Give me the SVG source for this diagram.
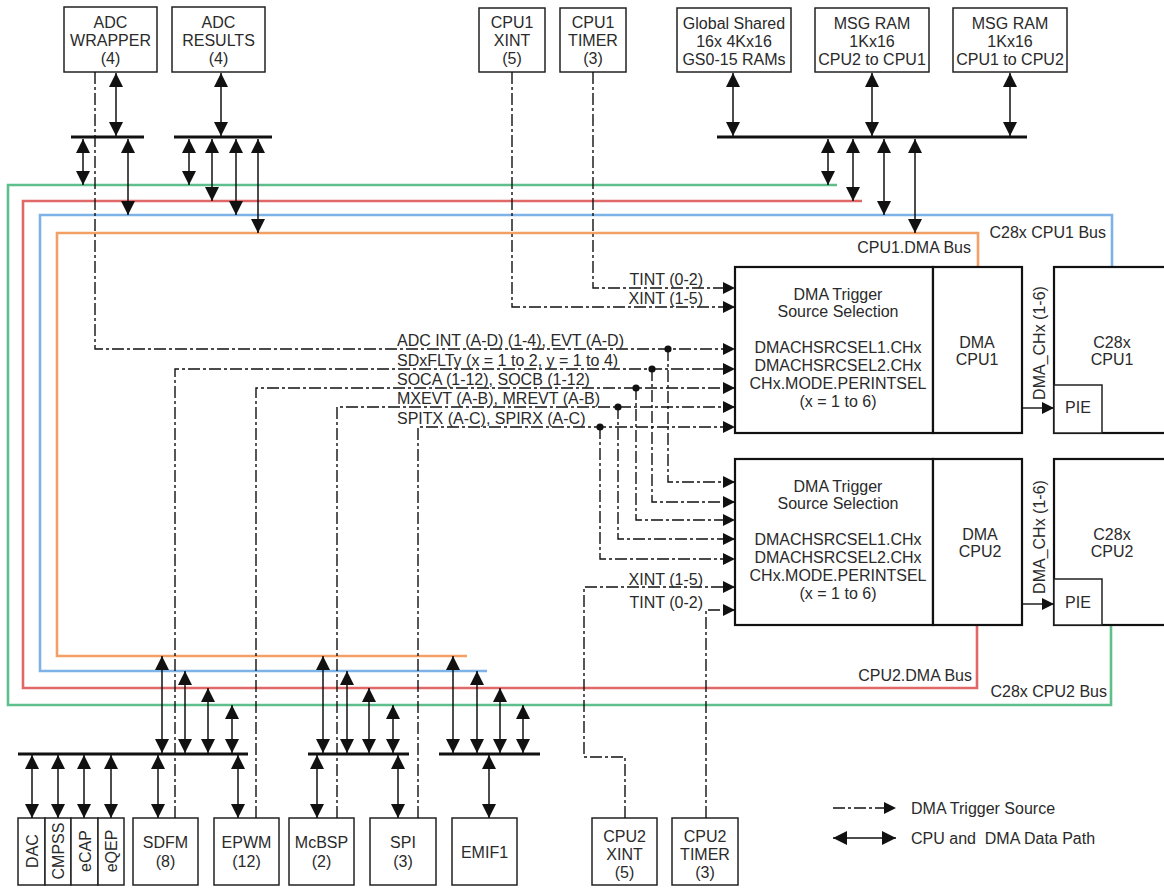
<svg xmlns="http://www.w3.org/2000/svg" width="1164" height="888" viewBox="0 0 1164 888">
<style>
.t{font-family:"Liberation Sans",Arial,sans-serif;font-size:16px;fill:#2a2a2a}
.c{text-anchor:middle}
.e{text-anchor:end}
.box{fill:#fff;stroke:#222;stroke-width:1.5}
.dbox{fill:#fff;stroke:#111;stroke-width:2.2}
.bus{stroke:#111;stroke-width:3}
.da{stroke:#111;stroke-width:1.5;fill:none;marker-start:url(#ah);marker-end:url(#ah)}
.tra{stroke:#111;stroke-width:1.4;fill:none;stroke-dasharray:12 3 3 3;marker-end:url(#th)}
.sa{stroke:#111;stroke-width:1.4;fill:none;marker-end:url(#th)}
.g{stroke:#5fbf8c;stroke-width:2.6;fill:none}
.r{stroke:#e06868;stroke-width:2.6;fill:none}
.b{stroke:#7db3e6;stroke-width:2.6;fill:none}
.o{stroke:#f3a066;stroke-width:2.6;fill:none}
</style>
<defs>
<marker id="ah" markerUnits="userSpaceOnUse" markerWidth="15" markerHeight="15" refX="14" refY="7" orient="auto-start-reverse"><path d="M0,0 L14,7 L0,14 z" fill="#111"/></marker>
<marker id="th" markerUnits="userSpaceOnUse" markerWidth="13" markerHeight="13" refX="12" refY="6" orient="auto"><path d="M0,0 L12,6 L0,12 z" fill="#111"/></marker>
</defs>
<rect width="1164" height="888" fill="#fff"/>

<g id="buses">
<path class="g" d="M837,185 H8 V705 H1111 V625"/>
<path class="r" d="M862,201 H23 V688 H977 V625"/>
<path class="b" d="M1112,266 V215 H40 V671 H487"/>
<path class="o" d="M978,266 V233 H57 V656 H467"/>
<text class="t e" x="1106" y="238">C28x CPU1 Bus</text>
<text class="t e" x="971" y="253">CPU1.DMA Bus</text>
<text class="t e" x="972" y="681">CPU2.DMA Bus</text>
<text class="t e" x="1107" y="697">C28x CPU2 Bus</text>
</g>

<g id="adc-wrapper"><rect class="box" x="64" y="7" width="93" height="65"/><text class="t c" x="110.5" y="28">ADC</text><text class="t c" x="110.5" y="46">WRAPPER</text><text class="t c" x="110.5" y="64">(4)</text></g>
<g id="adc-results"><rect class="box" x="172" y="7" width="93" height="65"/><text class="t c" x="218.5" y="28">ADC</text><text class="t c" x="218.5" y="46">RESULTS</text><text class="t c" x="218.5" y="64">(4)</text></g>
<g id="cpu1-xint"><rect class="box" x="479" y="8" width="66" height="64"/><text class="t c" x="512" y="28">CPU1</text><text class="t c" x="512" y="46">XINT</text><text class="t c" x="512" y="64">(5)</text></g>
<g id="cpu1-timer"><rect class="box" x="560" y="8" width="66" height="64"/><text class="t c" x="593" y="28">CPU1</text><text class="t c" x="593" y="46">TIMER</text><text class="t c" x="593" y="64">(3)</text></g>
<g id="gsram"><rect class="box" x="677" y="8" width="114" height="64"/><text class="t c" x="734" y="29">Global Shared</text><text class="t c" x="734" y="47">16x 4Kx16</text><text class="t c" x="734" y="65">GS0-15 RAMs</text></g>
<g id="msgram21"><rect class="box" x="815" y="8" width="114" height="64"/><text class="t c" x="872" y="29">MSG RAM</text><text class="t c" x="872" y="47">1Kx16</text><text class="t c" x="872" y="65">CPU2 to CPU1</text></g>
<g id="msgram12"><rect class="box" x="953" y="8" width="114" height="64"/><text class="t c" x="1010" y="29">MSG RAM</text><text class="t c" x="1010" y="47">1Kx16</text><text class="t c" x="1010" y="65">CPU1 to CPU2</text></g>

<g id="dma-trig1"><rect class="dbox" x="735" y="267" width="198" height="166"/><text class="t c" x="838" y="300">DMA Trigger</text><text class="t c" x="838" y="317">Source Selection</text><text class="t c" x="838" y="353">DMACHSRCSEL1.CHx</text><text class="t c" x="838" y="371">DMACHSRCSEL2.CHx</text><text class="t c" x="838" y="389">CHx.MODE.PERINTSEL</text><text class="t c" x="838" y="407">(x = 1 to 6)</text></g>
<g id="dma-cpu1"><rect class="dbox" x="933" y="267" width="89" height="166"/><text class="t c" x="977" y="348">DMA</text><text class="t c" x="977" y="365">CPU1</text></g>
<g id="c28x-cpu1"><rect class="dbox" x="1054" y="267" width="116" height="166"/><text class="t c" x="1112" y="348">C28x</text><text class="t c" x="1112" y="365">CPU1</text><rect class="box" x="1054" y="385" width="48" height="48"/><text class="t c" x="1078" y="413">PIE</text></g>
<g id="dma-trig2"><rect class="dbox" x="735" y="459" width="198" height="166"/><text class="t c" x="838" y="492">DMA Trigger</text><text class="t c" x="838" y="509">Source Selection</text><text class="t c" x="838" y="545">DMACHSRCSEL1.CHx</text><text class="t c" x="838" y="563">DMACHSRCSEL2.CHx</text><text class="t c" x="838" y="581">CHx.MODE.PERINTSEL</text><text class="t c" x="838" y="599">(x = 1 to 6)</text></g>
<g id="dma-cpu2"><rect class="dbox" x="933" y="459" width="89" height="166"/><text class="t c" x="980" y="540">DMA</text><text class="t c" x="980" y="557">CPU2</text></g>
<g id="c28x-cpu2"><rect class="dbox" x="1054" y="459" width="116" height="166"/><text class="t c" x="1112" y="540">C28x</text><text class="t c" x="1112" y="557">CPU2</text><rect class="box" x="1054" y="579" width="48" height="46"/><text class="t c" x="1078" y="608">PIE</text></g>

<g id="dac"><rect class="box" x="18" y="818" width="27" height="67"/><text class="t c" transform="rotate(-90 31.5 851)" x="31.5" y="857">DAC</text></g>
<g id="cmpss"><rect class="box" x="45" y="818" width="26" height="67"/><text class="t c" transform="rotate(-90 58 851)" x="58" y="857">CMPSS</text></g>
<g id="ecap"><rect class="box" x="71" y="818" width="27" height="67"/><text class="t c" transform="rotate(-90 84.5 851)" x="84.5" y="857">eCAP</text></g>
<g id="eqep"><rect class="box" x="98" y="818" width="26" height="67"/><text class="t c" transform="rotate(-90 111 851)" x="111" y="857">eQEP</text></g>
<g id="sdfm"><rect class="box" x="133" y="818" width="65" height="67"/><text class="t c" x="165.5" y="848">SDFM</text><text class="t c" x="165.5" y="867">(8)</text></g>
<g id="epwm"><rect class="box" x="214" y="818" width="65" height="67"/><text class="t c" x="246.5" y="848">EPWM</text><text class="t c" x="246.5" y="867">(12)</text></g>
<g id="mcbsp"><rect class="box" x="289" y="818" width="65" height="67"/><text class="t c" x="321.5" y="848">McBSP</text><text class="t c" x="321.5" y="867">(2)</text></g>
<g id="spi"><rect class="box" x="370" y="818" width="66" height="67"/><text class="t c" x="403" y="848">SPI</text><text class="t c" x="403" y="867">(3)</text></g>
<g id="emif1"><rect class="box" x="452" y="818" width="65" height="67"/><text class="t c" x="484.5" y="858">EMIF1</text></g>
<g id="cpu2-xint"><rect class="box" x="592" y="818" width="65" height="67"/><text class="t c" x="624.5" y="842">CPU2</text><text class="t c" x="624.5" y="860">XINT</text><text class="t c" x="624.5" y="878">(5)</text></g>
<g id="cpu2-timer"><rect class="box" x="672" y="818" width="66" height="67"/><text class="t c" x="705" y="842">CPU2</text><text class="t c" x="705" y="860">TIMER</text><text class="t c" x="705" y="878">(3)</text></g>

<g id="connectors">
<line class="bus" x1="71" y1="137" x2="144" y2="137"/>
<line class="bus" x1="174" y1="137" x2="272" y2="137"/>
<line class="bus" x1="717" y1="137" x2="1027" y2="137"/>
<line class="bus" x1="18" y1="754" x2="248" y2="754"/>
<line class="bus" x1="308" y1="754" x2="409" y2="754"/>
<line class="bus" x1="439" y1="754" x2="540" y2="754"/>
<line class="da" x1="116" y1="73" x2="116" y2="136"/>
<line class="da" x1="83" y1="139" x2="83" y2="185"/>
<line class="da" x1="128" y1="139" x2="128" y2="215"/>
<line class="da" x1="221" y1="73" x2="221" y2="136"/>
<line class="da" x1="189" y1="139" x2="189" y2="185"/>
<line class="da" x1="212" y1="139" x2="212" y2="201"/>
<line class="da" x1="236" y1="139" x2="236" y2="215"/>
<line class="da" x1="258" y1="139" x2="258" y2="233"/>
<line class="da" x1="733" y1="73" x2="733" y2="136"/>
<line class="da" x1="872" y1="73" x2="872" y2="136"/>
<line class="da" x1="1010" y1="73" x2="1010" y2="136"/>
<line class="da" x1="828" y1="139" x2="828" y2="185"/>
<line class="da" x1="853" y1="139" x2="853" y2="201"/>
<line class="da" x1="884" y1="139" x2="884" y2="215"/>
<line class="da" x1="915" y1="139" x2="915" y2="233"/>
<line class="da" x1="162" y1="656" x2="162" y2="753"/>
<line class="da" x1="185" y1="671" x2="185" y2="753"/>
<line class="da" x1="208" y1="688" x2="208" y2="753"/>
<line class="da" x1="232" y1="705" x2="232" y2="753"/>
<line class="da" x1="32" y1="755" x2="32" y2="818"/>
<line class="da" x1="58" y1="755" x2="58" y2="818"/>
<line class="da" x1="84" y1="755" x2="84" y2="818"/>
<line class="da" x1="111" y1="755" x2="111" y2="818"/>
<line class="da" x1="158" y1="755" x2="158" y2="818"/>
<line class="da" x1="238" y1="755" x2="238" y2="818"/>
<line class="da" x1="323" y1="656" x2="323" y2="753"/>
<line class="da" x1="347" y1="671" x2="347" y2="753"/>
<line class="da" x1="369" y1="688" x2="369" y2="753"/>
<line class="da" x1="393" y1="705" x2="393" y2="753"/>
<line class="da" x1="317" y1="755" x2="317" y2="818"/>
<line class="da" x1="398" y1="755" x2="398" y2="818"/>
<line class="da" x1="453" y1="656" x2="453" y2="753"/>
<line class="da" x1="477" y1="671" x2="477" y2="753"/>
<line class="da" x1="500" y1="688" x2="500" y2="753"/>
<line class="da" x1="523" y1="705" x2="523" y2="753"/>
<line class="da" x1="489" y1="755" x2="489" y2="818"/>
<line class="sa" x1="1022" y1="408" x2="1054" y2="408"/>
<line class="sa" x1="1022" y1="604" x2="1054" y2="604"/>
<text class="t c" transform="rotate(-90 1039 343)" x="1039" y="349">DMA_CHx (1-6)</text>
<text class="t c" transform="rotate(-90 1039 537)" x="1039" y="543">DMA_CHx (1-6)</text>
<path class="tra" d="M593,72 V288 H735"/>
<path class="tra" d="M512,72 V307 H735"/>
<text class="t e" x="703" y="285">TINT (0-2)</text>
<text class="t e" x="703" y="304">XINT (1-5)</text>
<path class="tra" d="M95,72 V349 H735"/>
<path class="tra" d="M175,818 V369 H735"/>
<path class="tra" d="M256,818 V388 H735"/>
<path class="tra" d="M337,818 V407 H735"/>
<path class="tra" d="M418,818 V427 H735"/>
<text class="t" x="397" y="346">ADC INT (A-D) (1-4), EVT (A-D)</text>
<text class="t" x="397" y="366">SDxFLTy (x = 1 to 2, y = 1 to 4)</text>
<text class="t" x="397" y="385">SOCA (1-12), SOCB (1-12)</text>
<text class="t" x="397" y="404">MXEVT (A-B), MREVT (A-B)</text>
<text class="t" x="397" y="424">SPITX (A-C), SPIRX (A-C)</text>
<path class="tra" d="M668,349 V482 H735"/>
<path class="tra" d="M652,369 V502 H735"/>
<path class="tra" d="M636,388 V520 H735"/>
<path class="tra" d="M618,407 V539 H735"/>
<path class="tra" d="M600,427 V559 H735"/>
<circle cx="668" cy="349" r="3.6" fill="#111"/>
<circle cx="652" cy="369" r="3.6" fill="#111"/>
<circle cx="636" cy="388" r="3.6" fill="#111"/>
<circle cx="618" cy="407" r="3.6" fill="#111"/>
<circle cx="600" cy="427" r="3.6" fill="#111"/>
<path class="tra" d="M625,818 V757 H584 V587 H735"/>
<path class="tra" d="M706,818 V610 H735"/>
<text class="t e" x="703" y="585">XINT (1-5)</text>
<text class="t e" x="703" y="608">TINT (0-2)</text>
</g>

<g id="legend">
<line class="tra" x1="833" y1="808" x2="896" y2="808"/>
<text class="t" x="911" y="814">DMA Trigger Source</text>
<line class="da" x1="833" y1="838" x2="896" y2="838"/>
<text class="t" x="911" y="844" xml:space="preserve">CPU and  DMA Data Path</text>
</g>
</svg>
